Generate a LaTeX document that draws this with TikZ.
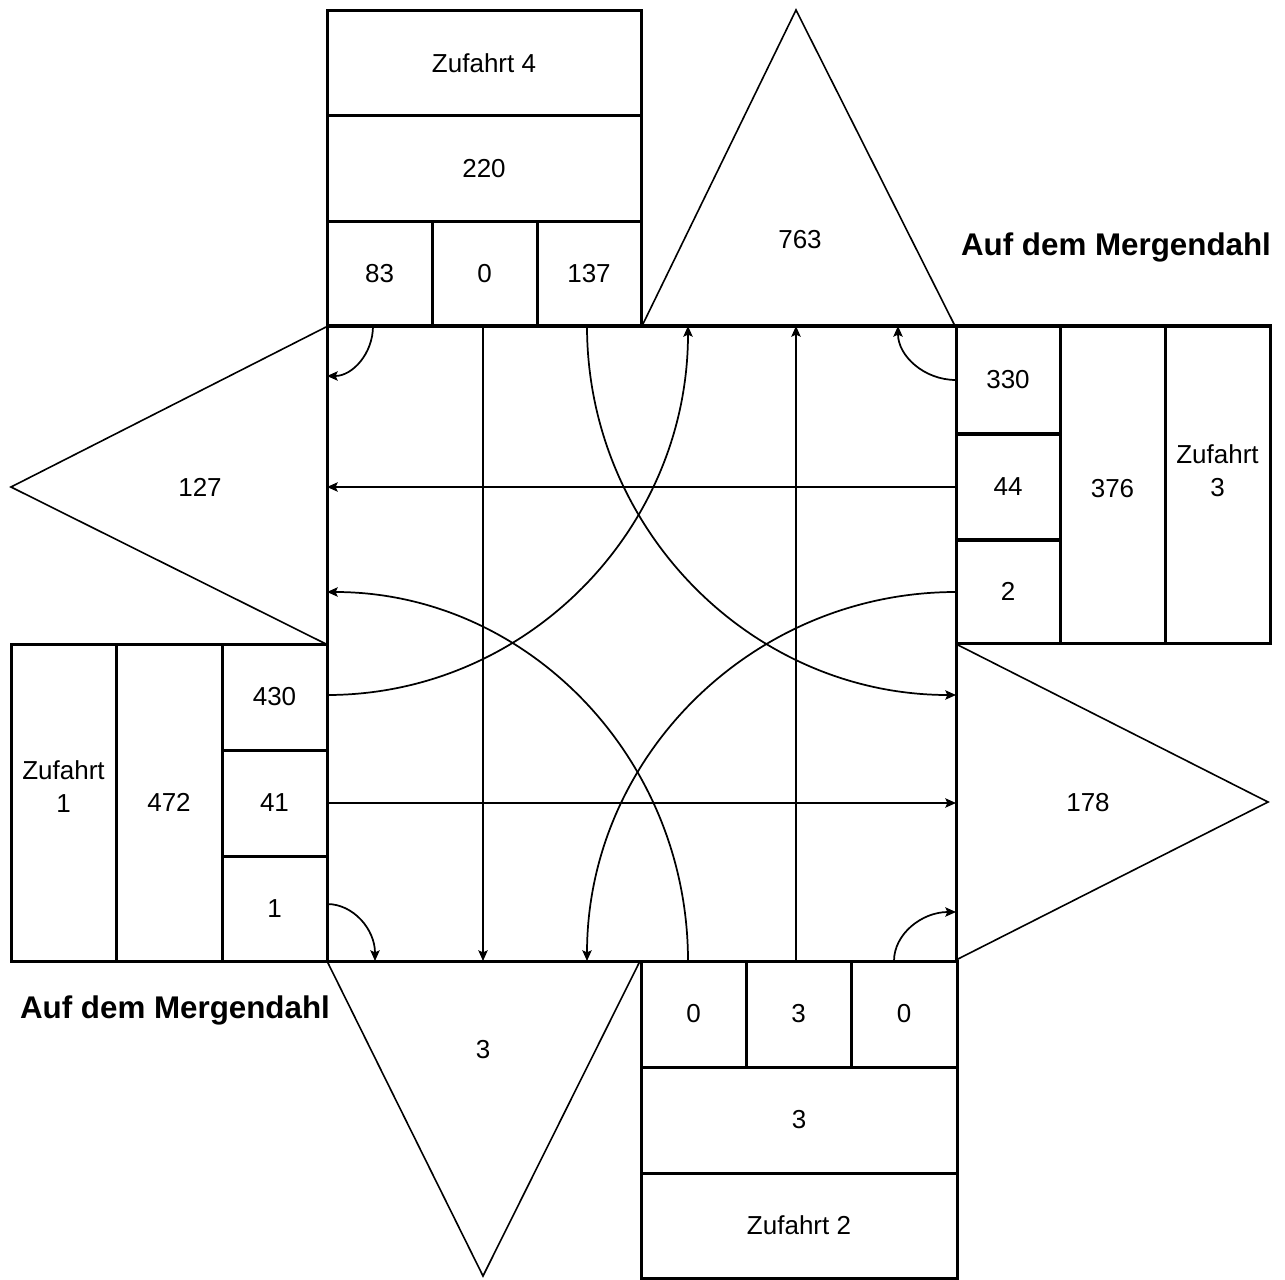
\documentclass[tikz,border=0pt]{standalone}
\usepackage{fontspec}
\setmainfont{Liberation Sans}
\usetikzlibrary{arrows.meta}
\begin{document}
\begin{tikzpicture}[x=0.75pt,y=-0.75pt,
  cell/.style={draw, line width=2.25pt, inner sep=0pt, align=center, font=\fontsize{19.5}{24.75}\selectfont},
  tri/.style={draw, line width=1.2pt, line join=miter},
  lab/.style={inner sep=0pt, align=center, font=\fontsize{19.5}{24.75}\selectfont},
  street/.style={inner sep=0pt, font=\fontsize{23.5}{28}\selectfont\bfseries},
  flow/.style={line width=1.3pt, -{Stealth[length=8pt,width=7pt,inset=1.5pt]}}]
\useasboundingbox (0,0) rectangle (1285,1280);
\fill[white] (0,0) rectangle (1285,1280);

% triangles (exit volumes)
\coordinate (tA) at (642,326); \coordinate (tB) at (796,10); \coordinate (tC) at (955,326);
\draw[tri] (tA) -- (tB) -- (tC);
\node[lab] (out4) at (800,240) {763};
\coordinate (lA) at (326,327); \coordinate (lB) at (11,487); \coordinate (lC) at (326,644);
\draw[tri] (lA) -- (lB) -- (lC);
\node[lab] (out1) at (200,487) {127};
\coordinate (rA) at (956,644); \coordinate (rB) at (1268,802); \coordinate (rC) at (956,960);
\draw[tri] (rA) -- (rB) -- (rC);
\node[lab] (out3) at (1088,803) {178};
\coordinate (bA) at (327,961); \coordinate (bB) at (483,1276); \coordinate (bC) at (640,961);
\draw[tri] (bA) -- (bB) -- (bC);
\node[lab] (out2) at (483,1050) {3};

% junction
\node[cell, minimum width=471.75pt, minimum height=476.25pt] (junction) at (641.5,643.5) {};

% top approach (Zufahrt 4)
\node[cell, minimum width=235.5pt, minimum height=78.75pt] (z4) at (484,63.5) {Zufahrt 4};
\node[cell, minimum width=235.5pt, minimum height=79.5pt] (t220) at (484,169) {220};
\node[cell, minimum width=78.75pt, minimum height=78pt] (t83) at (379.5,274) {83};
\node[cell, minimum width=78.75pt, minimum height=78pt] (t0) at (484.5,274) {0};
\node[cell, minimum width=78pt, minimum height=78pt] (t137) at (589,274) {137};

% right approach (Zufahrt 3)
\node[cell, minimum width=78pt, minimum height=80.25pt] (r330) at (1008,379.5) {330};
\node[cell, minimum width=78pt, minimum height=79.5pt] (r44) at (1008,487) {44};
\node[cell, minimum width=78pt, minimum height=78pt] (r2) at (1008,591) {2};
\node[cell, minimum width=78.75pt, minimum height=237.75pt] (r376) at (1112.5,484.5) {};
\node[lab] (r376t) at (1112.5,489) {376};
\node[cell, minimum width=78.75pt, minimum height=237.75pt] (z3) at (1217.5,484.5) {};
\node[lab] (z3t) at (1217.5,471) {Zufahrt\\3};

% bottom approach (Zufahrt 2)
\node[cell, minimum width=78.75pt, minimum height=79.5pt] (b0a) at (693.5,1014) {0};
\node[cell, minimum width=78.75pt, minimum height=79.5pt] (b3) at (798.5,1014) {3};
\node[cell, minimum width=79.5pt, minimum height=79.5pt] (b0b) at (904,1014) {0};
\node[cell, minimum width=237pt, minimum height=79.5pt] (b3big) at (799,1120) {3};
\node[cell, minimum width=237pt, minimum height=78.75pt] (z2) at (799,1225.5) {Zufahrt 2};

% left approach (Zufahrt 1)
\node[cell, minimum width=78.75pt, minimum height=237.75pt] (z1) at (63.5,802.5) {};
\node[lab] (z1t) at (63.5,787) {Zufahrt\\1};
\node[cell, minimum width=79.5pt, minimum height=237.75pt] (l472) at (169,802.5) {472};
\node[cell, minimum width=78.75pt, minimum height=79.5pt] (l430) at (274.5,697) {430};
\node[cell, minimum width=78.75pt, minimum height=79.5pt] (l41) at (274.5,803) {41};
\node[cell, minimum width=78.75pt, minimum height=78.75pt] (l1) at (274.5,908.5) {1};

% street names
\node[street] (streetR) at (1116,247) {Auf dem Mergendahl};
\node[street] (streetL) at (175,1010) {Auf dem Mergendahl};

% straight movements
\coordinate (s4) at (483,326); \coordinate (e4) at (483,961);
\draw[flow] (s4) -- (e4);
\coordinate (s2) at (796,961); \coordinate (e2) at (796,326);
\draw[flow] (s2) -- (e2);
\coordinate (s3) at (956,487); \coordinate (e3) at (327,487);
\draw[flow] (s3) -- (e3);
\coordinate (s1) at (327,803); \coordinate (e1) at (956,803);
\draw[flow] (s1) -- (e1);

% small turns
\coordinate (a0) at (373,326); \coordinate (a1) at (327,376);
\draw[flow] (a0) .. controls (373,353.6) and (352.4,376) .. (a1);
\coordinate (b0) at (956,380); \coordinate (b1) at (898,326);
\draw[flow] (b0) .. controls (924,380) and (898,355.8) .. (b1);
\coordinate (c0) at (327,904); \coordinate (c1) at (375,961);
\draw[flow] (c0) .. controls (353.5,904) and (375,929.5) .. (c1);
\coordinate (d0) at (894,961); \coordinate (d1) at (956,912);
\draw[flow] (d0) .. controls (894,934) and (921.8,912) .. (d1);

% large turns
\coordinate (e0) at (587,326); \coordinate (ee) at (956,695);
\draw[flow] (e0) .. controls (587,529.8) and (752.2,695) .. (ee);
\coordinate (f0) at (956,592); \coordinate (ff) at (587,961);
\draw[flow] (f0) .. controls (752.2,592) and (587,757.2) .. (ff);
\coordinate (g0) at (688,961); \coordinate (gg) at (327,592);
\draw[flow] (g0) .. controls (688,757.2) and (526.4,592) .. (gg);
\coordinate (h0) at (327,695); \coordinate (hh) at (688,326);
\draw[flow] (h0) .. controls (526.4,695) and (688,529.8) .. (hh);
\end{tikzpicture}
\end{document}
